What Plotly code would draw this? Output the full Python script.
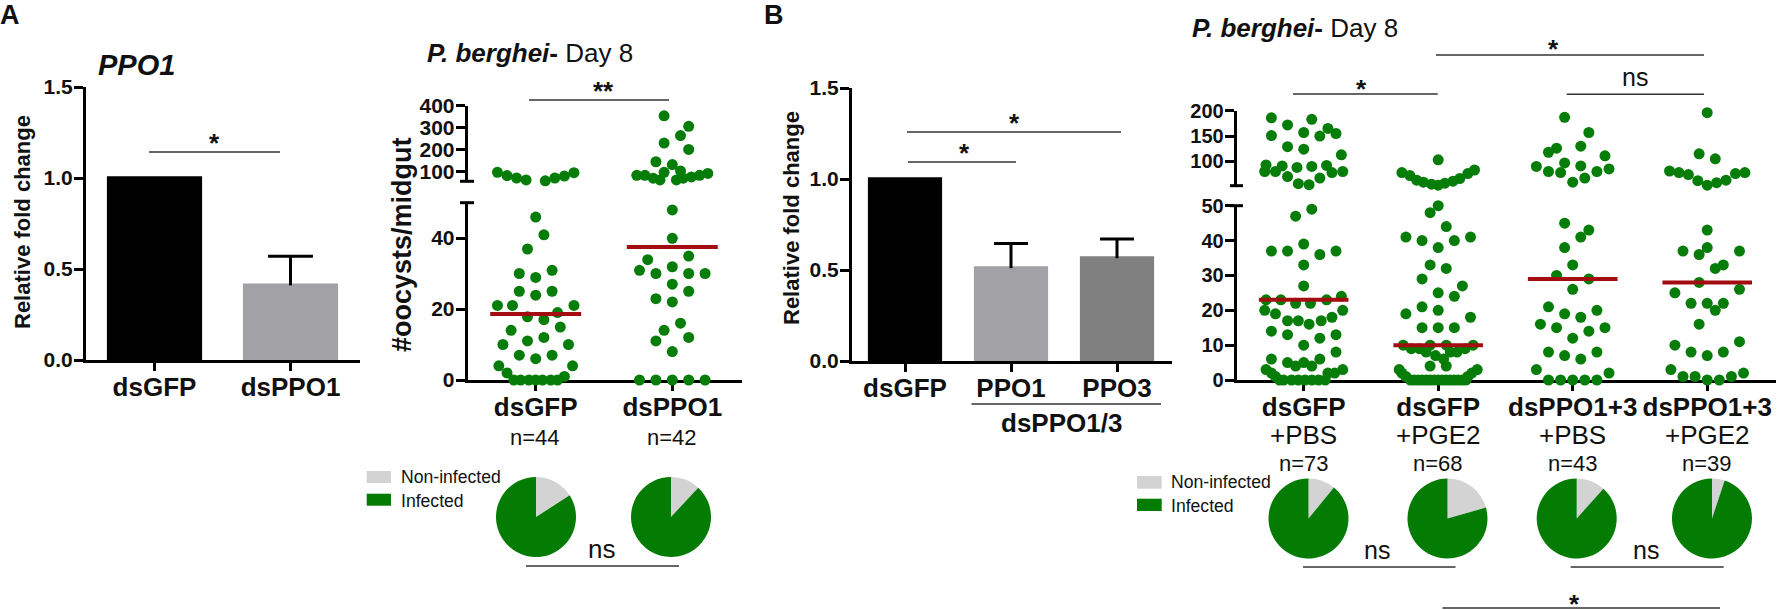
import plotly.graph_objs as go

W = 1785
H = 610
FONT = "Liberation Sans"
INK = "#111111"
DOT = "#067d08"
PIE_GREEN = "#047c04"
PIE_GREY = "#d3d3d3"
MEAN = "#a30d12"

# bars, panel A and B
a_bar_names = ["dsGFP", "dsPPO1"]
a_bar_values = [1.01, 0.42]
a_bar_errors = [0, 0.15]
b_bar_names = ["dsGFP", "PPO1", "PPO3"]
b_bar_values = [1.01, 0.52, 0.575]
b_bar_errors = [0, 0.125, 0.095]

# swarm panel A: hi = above the axis break, lo = below it
a_gfp_hi_x = [-.28, -.21, -.14, -.07, 0, .07, .14, .21, .28]
a_gfp_hi_y = [97, 82, 71, 62, 55, 58, 71, 80, 95]
a_gfp_lo_x = [0, .06, -.06, -.12, 0, .12, -.12, 0, .12, -.28, -.17, .28, .16, -.06, .06, .18, -.18, -.06, .06, -.24,
              .24, -.12, 0, .12, -.27, .27, -.21, .21, -.16, -.11, -.05, 0, .05, .11, .16]
a_gfp_lo_y = [45.9, 40.9, 36.9, 30, 28.9, 30.9, 25, 23.9, 25, 21, 21, 21, 19, 17.8, 17, 14.9, 14, 11, 12, 10,
              10, 7, 6, 7, 4, 4, 2, 1, 0, 0, 0, 0, 0, 0, 0]
a_ppo_hi_x = [-.06, .12, .06, -.06, .12, -.12, 0, -.06, .06, -.26, -.2, -.14, -.09, -.03, .03, .08, .14, .2, .26]
a_ppo_hi_y = [354, 306, 264, 230, 201, 145, 132, 97, 103, 83, 83, 70, 62, 52, 62, 70, 76, 83, 92]
a_ppo_lo_x = [0, 0, .12, -.18, 0, -.24, -.12, .12, .24, 0, .12, -.12, 0, .06, -.06, .12, -.12, 0,
              -.24, -.12, 0, .12, .24]
a_ppo_lo_y = [47.9, 39.9, 34.9, 33.9, 31.9, 30.9, 30, 30, 30, 27, 25, 22.9, 22, 16, 14, 12, 11, 8,
              0, 0, 0, 0, 0]
a_means = [18.6, 37.5]
a_groups = ["dsGFP", "dsPPO1"]
a_counts = ["n=44", "n=42"]

# swarm panel B
b1_hi_x = [-.24, -.12, .06, .18, .24, 0, .12, -.24, -.12, 0, .28, -.28, -.16, -.29, -.21, -.05, .06, .17, .21, .29,
           -.12, .12, -.04, .04]
b1_hi_y = [186, 172, 183, 165, 155, 157, 150, 151, 129, 124, 113, 93, 91, 80, 80, 88, 90, 92, 78, 80,
           70, 67, 56, 54]
b1_lo_x = [.06, -.06, -.24, -.12, 0, .12, .24, 0, 0, -.28, -.17, .17, .28, -.06, .05, -.29, .29, -.21, -.12, -.04,
           .04, .13, .21, -.24, -.12, .12, .24, 0, .24, -.24, .12, -.12, -.06, 0, .06, -.28, .29, -.24, .23, .18,
           -.21, -.18, -.15, -.09, -.04, .01, .06, .11, .16]
b1_lo_y = [49, 47, 37, 37, 39, 36, 37, 33, 27, 23, 23, 23, 24, 22, 22, 20, 20, 19, 17, 17,
           16, 17, 18, 14, 13, 12, 13, 10, 8, 6, 6, 5, 4, 5, 4, 3, 3, 2, 2, 2,
           1, 0, 0, 0, 0, 0, 0, 0, 0]
b2_hi_x = [0, -.27, -.21, -.16, -.11, -.05, 0, .05, .11, .16, .22, .27]
b2_hi_y = [103, 78, 72, 63, 59, 55, 53, 57, 61, 66, 76, 83]
b2_lo_x = [0, -.06, .06, -.24, -.12, .12, .24, 0, -.06, .06, -.12, .18, 0, .12, -.12, 0, -.24, .24, -.12, 0, .12,
           -.26, -.06, .06, .26, -.2, -.14, -.09, -.02, .04, .09, .14, .2, -.06, .06, -.29, .29, -.27, .25, -.24, .22,
           -.206, -.177, -.147, -.118, -.088, -.059, -.029, 0, .029, .059, .088, .118, .147, .177, .206]
b2_lo_y = [50, 48, 44, 41, 40, 40, 41, 38, 33, 32, 29, 27, 25, 24, 21, 20, 19, 18, 15, 15, 15,
           10, 10, 10, 10, 9, 9, 8, 7, 6, 8, 8, 9, 4, 4, 3, 3, 2, 2, 1, 1,
           0, 0, 0, 0, 0, 0, 0, 0, 0, 0, 0, 0, 0, 0, 0]
b3_hi_x = [-.06, .12, .06, -.12, -.18, .24, -.06, .06, -.27, -.18, -.09, .18, .27, .09, 0]
b3_hi_y = [187, 157, 130, 126, 118, 111, 97, 91, 90, 80, 78, 80, 85, 67, 59]
b3_lo_x = [-.06, .12, .06, -.06, 0, -.12, .12, 0, -.18, .18, -.06, .06, -.24, .24, -.12, .12, 0, -.18, .18, -.06,
           .06, -.27, .27, -.18, -.09, 0, .09, .18]
b3_lo_y = [45, 43, 41, 38, 33, 30, 29, 26, 21, 20, 19, 18, 16, 15, 15, 14, 12, 8, 8, 7,
           6, 3, 2, 0, 0, 0, 0, 0]
b4_hi_x = [0, -.06, .06, -.28, -.21, -.14, -.07, 0, .07, .14, .21, .28]
b4_hi_y = [196, 115, 105, 81, 78, 74, 62, 53, 58, 63, 76, 78]
b4_lo_x = [0, -.18, 0, -.06, .24, .12, .06, -.06, .24, -.24, -.12, 0, .12, .06, -.06, -.24, .24, -.12, 0, .12,
           -.27, .27, -.18, -.09, .18, 0, .09]
b4_lo_y = [43, 37, 38, 36, 37, 33, 32, 28, 26, 25, 22, 22, 22, 20, 16, 10, 11, 8, 7, 8,
           3, 2, 1, 1, 1, 0, 0]
b_means = [23, 10, 29, 28]
b_groups = ["dsGFP", "dsGFP", "dsPPO1+3", "dsPPO1+3"]
b_treat = ["+PBS", "+PGE2", "+PBS", "+PGE2"]
b_counts = ["n=73", "n=68", "n=43", "n=39"]

# pies: mosquitoes with no oocysts, out of n
pie_non = [7, 5, 8, 14, 5, 2]
pie_total = [44, 42, 73, 68, 43, 39]
pie_labels = ["Non-infected", "Infected"]


def fx(x):  # pixel to paper
    return x / W


def fy(y):
    return 1 - y / H


def note(text, x, y, size, bold=False, italic=False, angle=0, anchor="center", box=None):
    if bold:
        text = "<b>" + text + "</b>"
    if italic:
        text = "<i>" + text + "</i>"
    fig.add_annotation(text=text, x=fx(x), y=fy(y), xref="paper", yref="paper", showarrow=False, textangle=angle,
                       xanchor=anchor, yanchor="middle", height=box, valign="top",
                       font=dict(family=FONT, size=size, color=INK))


def rule(x0, x1, y, width=1.6, color="#333333"):
    fig.add_shape(type="line", xref="paper", yref="paper", x0=fx(x0), x1=fx(x1), y0=fy(y), y1=fy(y),
                  line=dict(color=color, width=width))


def swatch(x0, x1, y0, y1, color):
    fig.add_shape(type="rect", xref="paper", yref="paper", x0=fx(x0), x1=fx(x1), y0=fy(y0), y1=fy(y1),
                  fillcolor=color, line=dict(width=0))


def axis_x(x0, x1, first, step, ticks, labels, anchor):
    return dict(domain=[fx(x0), fx(x1)], range=[(x0 - first) / step, (x1 - first) / step], tickvals=ticks,
                ticktext=labels, anchor=anchor, showgrid=False, zeroline=False, showline=True, linecolor="#000",
                linewidth=3, ticks="outside", ticklen=8, tickwidth=3, tickcolor="#000", layer="below traces",
                tickfont=dict(family=FONT, size=26, color=INK, weight=700), ticklabelstandoff=-6)


def axis_y(top, bottom, low, high, ticks, size, anchor, fmt=None):
    d = dict(domain=[fy(bottom), fy(top)], range=[low, high], tickvals=ticks, anchor=anchor, showgrid=False,
             zeroline=False, showline=True, linecolor="#000", linewidth=3, ticks="outside", ticklen=9, tickwidth=3,
             tickcolor="#000", tickfont=dict(family=FONT, size=size, color=INK, weight=700), ticklabelstandoff=-3)
    if fmt:
        d["tickformat"] = fmt
    return d


def add_bars(values, errors, colors, xa, ya, cap):
    fig.add_trace(go.Bar(x=list(range(len(values))), y=values, width=0.7, marker=dict(color=colors, line=dict(width=0)),
                         xaxis=xa, yaxis=ya, showlegend=False))
    # whisker only goes up, the stem sinks a little into the bar
    for i in range(len(values)):
        if errors[i] > 0:
            top = values[i] + errors[i]
            fig.add_trace(go.Scatter(x=[i, i, None, i - cap, i + cap], y=[values[i] - 0.01, top, None, top, top],
                                     mode="lines", xaxis=xa, yaxis=ya, showlegend=False,
                                     line=dict(color="#000", width=3)))


def add_swarm(group, off, vals, xa, ya):
    fig.add_trace(go.Scatter(x=[group + o for o in off], y=vals, mode="markers", xaxis=xa, yaxis=ya, showlegend=False,
                             cliponaxis=False, marker=dict(color=DOT, size=11, line=dict(width=0))))


def add_mean(group, val, xa, ya):
    fig.add_trace(go.Scatter(x=[group - 0.333, group + 0.333], y=[val, val], mode="lines", xaxis=xa, yaxis=ya,
                             showlegend=False, cliponaxis=False, line=dict(color=MEAN, width=4)))


fig = go.Figure()

# panel A bars
add_bars(a_bar_values, a_bar_errors, ["#000000", "#a2a2a6"], "x", "y", 0.165)
# panel B bars
add_bars(b_bar_values, b_bar_errors, ["#000000", "#a2a2a6", "#808080"], "x2", "y2", 0.16)

# panel A swarm, y3 is the lower part of the broken axis and y4 the upper
for g, (hx, hy, lx, ly) in enumerate([(a_gfp_hi_x, a_gfp_hi_y, a_gfp_lo_x, a_gfp_lo_y),
                                      (a_ppo_hi_x, a_ppo_hi_y, a_ppo_lo_x, a_ppo_lo_y)]):
    add_swarm(g, hx, hy, "x3", "y4")
    add_swarm(g, lx, ly, "x3", "y3")
    add_mean(g, a_means[g], "x3", "y3")

# panel B swarm
for g, (hx, hy, lx, ly) in enumerate([(b1_hi_x, b1_hi_y, b1_lo_x, b1_lo_y), (b2_hi_x, b2_hi_y, b2_lo_x, b2_lo_y),
                                      (b3_hi_x, b3_hi_y, b3_lo_x, b3_lo_y), (b4_hi_x, b4_hi_y, b4_lo_x, b4_lo_y)]):
    add_swarm(g, hx, hy, "x4", "y6")
    add_swarm(g, lx, ly, "x4", "y5")
    add_mean(g, b_means[g], "x4", "y5")

# pies, one per group
pie_cx = [536, 671, 1308.5, 1447.5, 1576.7, 1712]
pie_cy = [517, 517, 518.5, 518.5, 518.5, 518.5]
for i in range(len(pie_non)):
    fig.add_trace(go.Pie(values=[pie_non[i], pie_total[i] - pie_non[i]], labels=pie_labels, sort=False,
                         direction="clockwise", rotation=0, textinfo="none", showlegend=False, hoverinfo="label+value",
                         marker=dict(colors=[PIE_GREY, PIE_GREEN], line=dict(width=0)),
                         domain=dict(x=[fx(pie_cx[i] - 40), fx(pie_cx[i] + 40)],
                                     y=[fy(pie_cy[i] + 40), fy(pie_cy[i] - 40)])))

fig.update_layout(
    width=W, height=H, margin=dict(l=0, r=0, t=0, b=0, autoexpand=False), paper_bgcolor="white",
    plot_bgcolor="rgba(0,0,0,0)", font=dict(family=FONT, color=INK), barmode="overlay",
    xaxis=axis_x(86, 360, 154.5, 136, [0, 1], a_bar_names, "y"),
    yaxis=axis_y(87, 360, 0, 1.5, [0, 0.5, 1, 1.5], 21, "x", ".1f"),
    xaxis2=axis_x(852, 1172, 905, 106, [0, 1, 2], b_bar_names, "y2"),
    yaxis2=axis_y(88, 361, 0, 1.5, [0, 0.5, 1, 1.5], 21, "x2", ".1f"),
    xaxis3=axis_x(467.7, 742, 535.7, 136.6, [0, 1], a_groups, "y3"),
    yaxis3=axis_y(202.5, 380, 0, 50, [0, 20, 40], 21, "x3"),
    yaxis4=axis_y(105.7, 181.3, 56, 400, [100, 200, 300, 400], 21, "x3"),
    xaxis4=axis_x(1236.7, 1776, 1303.7, 134.5, [0, 1, 2, 3], b_groups, "y5"),
    yaxis5=axis_y(205.7, 380, 0, 50, [0, 10, 20, 30, 40, 50], 20, "x4"),
    yaxis6=axis_y(110.7, 185.7, 52, 200, [100, 150, 200], 20, "x4"),
)

# caps where the y axes break
for cx0, cx1, cy in [(460, 474, 181.3), (460, 474, 202.7), (1230, 1243, 185.7), (1230, 1243, 205.7)]:
    rule(cx0, cx1, cy, width=3, color="#000")

# panel letters and titles
note("A", 10, 15, 27, bold=True)
note("B", 774, 15, 27, bold=True)
note("PPO1", 136, 65, 29, bold=True, italic=True)
note("<b><i>P. berghei</i>-</b> Day 8", 530, 53, 26)
note("<b><i>P. berghei</i>-</b> Day 8", 1295, 28, 26)
note("Relative fold change", 22, 222, 22, bold=True, angle=-90)
note("Relative fold change", 791, 218, 22, bold=True, angle=-90)
note("#oocysts/midgut", 402, 245, 27, bold=True, angle=-90)

# x labels that sit under the tick labels
note("n=44", 535, 437.7, 22)
note("n=42", 672, 437.7, 22)
for i in range(4):
    cx = 1303.7 + 134.5 * i
    note(b_treat[i], cx, 435, 26)
    note(b_counts[i], cx, 463, 22)
rule(971.5, 1161, 404)
note("dsPPO1/3", 1061, 423, 26, bold=True)

# significance bars
rule(149, 280, 152)
note("*", 214, 143, 26, bold=True)
rule(529, 669, 100)
note("**", 603, 91, 26, bold=True)
rule(907, 1121, 132)
note("*", 1014, 123, 26, bold=True)
rule(908, 1016, 162)
note("*", 964, 153, 26, bold=True)
rule(1293, 1437.7, 94)
note("*", 1361.7, 89, 26, bold=True)
rule(1436, 1704, 55)
note("*", 1553, 49, 26, bold=True)
rule(1566.7, 1704, 94.3)
note("ns", 1635, 77, 25)
rule(526, 679, 566)
note("ns", 601, 549, 26)
rule(1303, 1455.5, 567)
note("ns", 1377, 550, 25)
rule(1570.7, 1723.7, 567)
note("ns", 1645.7, 550, 25)
rule(1442.5, 1720, 608)
# last star sits close to the page edge, keep its box short
note("*", 1574, 598, 26, bold=True, box=18)

# pie legends
swatch(366.7, 391, 471, 483, PIE_GREY)
swatch(366.7, 391, 493.7, 505.7, PIE_GREEN)
note("Non-infected", 398.7, 476.7, 17.6, anchor="left")
note("Infected", 398.7, 500.7, 17.6, anchor="left")
swatch(1137, 1161.7, 476, 488.7, PIE_GREY)
swatch(1137, 1161.7, 498.7, 511, PIE_GREEN)
note("Non-infected", 1169.3, 482.3, 17.6, anchor="left")
note("Infected", 1169.3, 505.7, 17.6, anchor="left")

fig.write_html("out.html", config=dict(displayModeBar=False),
               post_script="document.body.style.margin='0';document.body.style.overflow='hidden';")
